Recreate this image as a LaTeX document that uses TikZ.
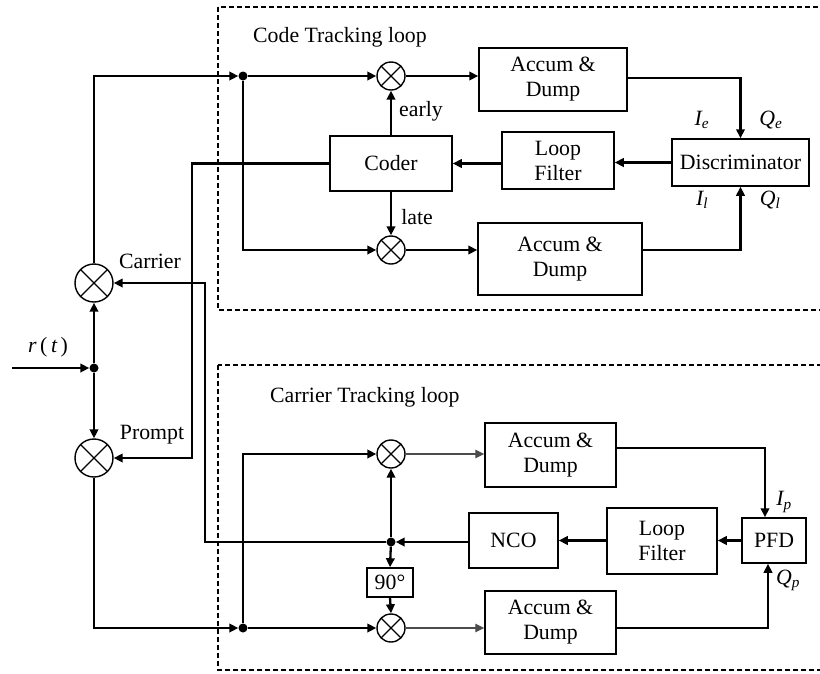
\documentclass[tikz,border=0pt]{standalone}
\usepackage{fontspec}
\setmainfont{Liberation Serif}
\usetikzlibrary{arrows.meta,calc}
\begin{document}
\begin{tikzpicture}[x=1pt,y=-1pt,
  font=\fontsize{21.8}{25}\selectfont,
  blk/.style={draw,line width=1.5pt,inner sep=0pt,align=center},
  mix/.style={circle,draw,line width=1.4pt,inner sep=0pt,minimum size=#1,
    path picture={\draw[line width=1.2pt] (path picture bounding box.south west) -- (path picture bounding box.north east)
      (path picture bounding box.north west) -- (path picture bounding box.south east);}},
  jdot/.style={circle,fill,inner sep=0pt,minimum size=9pt},
  sig/.style={line width=2.3pt,-{Triangle[length=9pt,width=8.5pt]}},
  sigthin/.style={line width=1.3pt,draw=black!70,-{Triangle[length=9pt,width=8.5pt]},},
  lbl/.style={inner sep=0pt},
  frame/.style={dash pattern=on 5pt off 3pt,line width=2.2pt}]
\useasboundingbox (0,0) rectangle (820,673);
\clip (0,0) rectangle (820,673);
\fill[white] (0,0) rectangle (820,673);

% frames
\draw[frame] (218,7) rectangle (835,310);
\draw[frame] (218,365) rectangle (835,670);
\node[lbl,anchor=west] (tcode) at (253,37) {Code Tracking loop};
\node[lbl,anchor=west] (tcar) at (270,397) {Carrier Tracking loop};

% blocks
\node[blk,minimum width=122pt,minimum height=55pt] (coder) at (391,163.5) {Coder};
\node[blk,minimum width=148pt,minimum height=63pt] (acc1) at (553,79.5) {Accum \&\\Dump};
\node[blk,minimum width=137pt,minimum height=47pt] (disc) at (740.5,162.5) {Discriminator};
\node[blk,minimum width=112pt,minimum height=57pt] (lf1) at (558,160.5) {Loop\\Filter};
\node[blk,minimum width=164pt,minimum height=72pt] (acc2) at (560,259) {Accum \&\\Dump};
\node[blk,minimum width=131pt,minimum height=64pt] (acc3) at (550.5,455) {Accum \&\\Dump};
\node[blk,minimum width=131pt,minimum height=63pt] (acc4) at (550.5,622.5) {Accum \&\\Dump};
\node[blk,minimum width=89pt,minimum height=55pt] (nco) at (513.5,540.5) {NCO};
\node[blk,minimum width=110pt,minimum height=66pt] (lf2) at (662,541) {Loop\\Filter};
\node[blk,minimum width=64pt,minimum height=45pt] (pfd) at (774,540.5) {PFD};
\node[blk,minimum width=46pt,minimum height=29pt] (ph) at (390,582.5) {90°};

% mixers
\node[mix=28pt] (me) at (391,76) {};
\node[mix=28pt] (ml) at (391,250) {};
\node[mix=38pt] (mc) at (94,283) {};
\node[mix=38pt] (mp) at (94,458) {};
\node[mix=28pt] (mt) at (391,454) {};
\node[mix=28pt] (mb) at (391,628) {};

% junctions
\node[jdot] (d1) at (243,76) {};
\node[jdot] (d2) at (94,368) {};
\node[jdot] (d3) at (243,628) {};
\node[jdot] (d4) at (391,542) {};
\coordinate (rin) at (12,368);
\coordinate (kp) at (192,0);
\coordinate (kc) at (205,0);

% input
\draw[sig] (rin) -- (d2);
\draw[sig] (d2) -- (mc);
\draw[sig] (d2) -- (mp);

% code loop
\draw[sig] (mc.north) |- (d1);
\draw[sig] (d1) -- (me);
\draw[sig] (d1) |- (ml.west);
\draw[sig] (me.east) -- (me.east -| acc1.west);
\draw[sig] (ml.east) -- (ml.east -| acc2.west);
\draw[sig] (coder.north) -- (me.south);
\draw[sig] (coder.south) -- (ml.north);
\draw[sig] (acc1.east |- 0,78) -| (disc.north);
\draw[sig] (acc2.east |- ml) -| (disc.south);
\draw[sig] (disc.west) -- (disc.west -| lf1.east);
\draw[sig] (lf1.west |- coder) -- (coder.east);
\draw[sig] (coder.west) -| (kp |- mp) -- (mp.east);

% carrier loop
\draw[sig] (mp.south) |- (d3);
\draw[sig] (d3) |- (mt.west);
\draw[sig] (d3) -- (mb);
\draw[sig] (nco.west |- d4) -- (d4);
\draw[sig] (d4) -| (kc |- mc) -- (mc.east);
\draw[sig] (d4) -- (mt.south);
\draw[sig] (d4) -- (ph.north);
\draw[sig] (ph.south) -- (mb.north);
\draw[sigthin] (mt.east) -- (mt.east -| acc3.west);
\draw[sigthin] (mb.east) -- (mb.east -| acc4.west);
\draw[sig] (acc3.east |- 0,448) -| ([xshift=-9pt]pfd.north);
\draw[sig] (acc4.east |- mb) -| ([xshift=-6pt]pfd.south);
\draw[sig] (pfd.west) -- (pfd.west -| lf2.east);
\draw[sig] (lf2.west |- nco) -- (nco.east);

% labels
\node[lbl] (lcar) at (150,261) {Carrier};
\node[lbl] (lpro) at (152,435) {Prompt};
\node[lbl] (lear) at (421,111) {early};
\node[lbl] (llat) at (417,217) {late};
\node[lbl] (lrt) at (48,347) {\itshape r\,\upshape(\,\itshape t\,\upshape)};
\node[lbl] (lie) at (702,120) {\itshape I\textsubscript{e}};
\node[lbl] (lqe) at (771,120) {\itshape Q\textsubscript{e}};
\node[lbl] (lil) at (702,200) {\itshape I\textsubscript{l}};
\node[lbl] (lql) at (770,200) {\itshape Q\textsubscript{l}};
\node[lbl] (lip) at (784,502) {\itshape I\textsubscript{p}};
\node[lbl] (lqp) at (788,580) {\itshape Q\textsubscript{p}};
\end{tikzpicture}
\end{document}
